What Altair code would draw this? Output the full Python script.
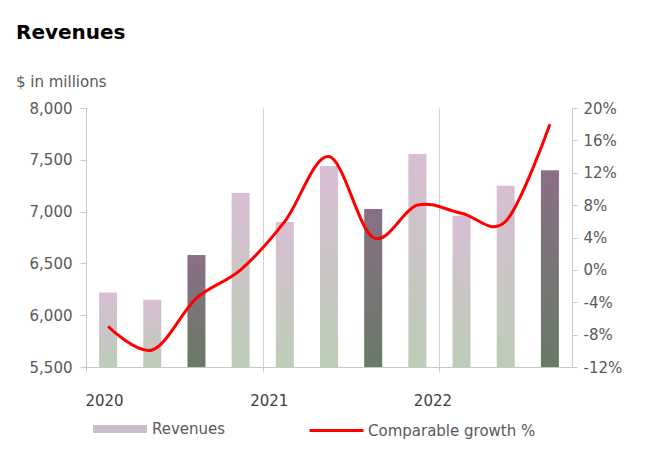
import altair as alt
import pandas as pd

# ---- data ----
quarters = ["Q1", "Q2", "Q3", "Q4", "Q1", "Q2", "Q3", "Q4", "Q1", "Q2", "Q3"]
quarter_years = ["2020"] * 4 + ["2021"] * 4 + ["2022"] * 3
revenues = [6220, 6150, 6580, 7180, 6900, 7440, 7025, 7555, 6960, 7250, 7400]
growth = [-7.0, -9.9, -3.5, 0.0, 6.0, 14.0, 4.0, 8.0, 7.0, 6.0, 18.0]
year_labels = ["2020", "2021", "2022"]
rev_ticks = [5500, 6000, 6500, 7000, 7500, 8000]
growth_ticks = [-12, -8, -4, 0, 4, 8, 12, 16, 20]
bar_series = "Revenues"
line_series = "Comparable growth %"
chart_title = "Revenues"
chart_subtitle = "$ in millions"

n = len(revenues)
df = pd.DataFrame({
    "idx": list(range(n)),
    "quarter": quarters,
    "year": quarter_years,
    "revenue": revenues,
    "growth": growth,
    "bar_series": [bar_series] * n,
    "line_series": [line_series] * n,
})

year_starts = [i for i, q in enumerate(quarters) if q == "Q1"]
label_expr = " : ".join(
    f"datum.value == {v} ? '{y}'" for v, y in zip(year_starts[:-1], year_labels[:-1])
) + f" : '{year_labels[-1]}'"

label_offsets = [18, 6, -7]
x_label_offset = {
    "condition": [
        {"test": f"datum.value == {v}", "value": o}
        for v, o in zip(year_starts[:-1], label_offsets[:-1])
    ],
    "value": label_offsets[-1],
}

AXIS_GREY = "#c8c8c8"
GRID = "#ccd4cc"
TXT = "#595959"
FONT = "DejaVu Sans"

light_grad = {
    "gradient": "linear", "x1": 0, "x2": 0, "y1": 0, "y2": 1,
    "stops": [
        {"offset": 0, "color": "#d8bed4"},
        {"offset": 1, "color": "#bccdb6"},
    ],
}
dark_grad = {
    "gradient": "linear", "x1": 0, "x2": 0, "y1": 0, "y2": 1,
    "stops": [
        {"offset": 0, "color": "#8a6f86"},
        {"offset": 1, "color": "#687a66"},
    ],
}

base = alt.Chart(df).transform_calculate(pos="datum.idx + 0.5")

x_enc = alt.X(
    "pos:Q",
    scale=alt.Scale(domain=[0, n], nice=False, zero=False, padding=0),
    axis=alt.Axis(
        values=year_starts,
        labelExpr=label_expr,
        title=None,
        grid=True,
        gridColor=GRID,
        gridWidth=1,
        domainColor=AXIS_GREY,
        tickColor=AXIS_GREY,
        tickSize=5,
        labelPadding=21,
        labelBaseline="top",
        labelAlign="center",
        labelOffset=x_label_offset,
        labelColor="#404040",
        labelFontSize=15,
        labelFont=FONT,
    ),
)

y_rev = alt.Y(
    "revenue:Q",
    scale=alt.Scale(domain=[rev_ticks[0], rev_ticks[-1]], nice=False, zero=False),
    axis=alt.Axis(
        values=rev_ticks,
        format=",.0f",
        title=None,
        grid=False,
        domainColor=AXIS_GREY,
        tickColor=AXIS_GREY,
        tickSize=6,
        labelPadding=8,
        labelColor=TXT,
        labelFontSize=15,
        labelFont=FONT,
    ),
)

bars_legend = base.mark_bar(width=18, opacity=0).encode(
    x=x_enc,
    y=y_rev,
    y2=alt.Y2(datum=rev_ticks[0]),
    color=alt.Color(
        "bar_series:N",
        scale=alt.Scale(domain=[bar_series], range=["#c9bfc8"]),
        legend=alt.Legend(
            orient="none",
            legendX=7,
            legendY=294,
            title=None,
            padding=0,
            symbolType="M-1,-0.15L1,-0.15L1,0.15L-1,0.15Z",
            symbolSize=2916,
            symbolOpacity=1,
            symbolStrokeWidth=0,
            labelOffset=5,
            labelLimit=0,
            labelFontSize=15,
            labelFont=FONT,
            labelColor=TXT,
        ),
    ),
)

bars = base.mark_bar(width=18).encode(
    x=x_enc,
    y=y_rev,
    y2=alt.Y2(datum=rev_ticks[0]),
    color=alt.condition("datum.quarter == 'Q3'", alt.value(dark_grad), alt.value(light_grad)),
)

line = base.mark_line(interpolate="cardinal", strokeWidth=3).encode(
    x=x_enc,
    y=alt.Y(
        "growth:Q",
        scale=alt.Scale(domain=[growth_ticks[0], growth_ticks[-1]], nice=False, zero=False),
        axis=alt.Axis(
            orient="right",
            values=growth_ticks,
            labelExpr="datum.value + '%'",
            title=None,
            grid=False,
            domainColor=AXIS_GREY,
            tickColor=AXIS_GREY,
            tickSize=5,
            labelPadding=6,
            labelColor=TXT,
            labelFontSize=15,
            labelFont=FONT,
        ),
    ),
    stroke=alt.Stroke(
        "line_series:N",
        scale=alt.Scale(domain=[line_series], range=["#ff0000"]),
        legend=alt.Legend(
            orient="none",
            legendX=222,
            legendY=294,
            title=None,
            padding=0,
            symbolType="stroke",
            symbolSize=2916,
            symbolStrokeWidth=3,
            labelOffset=3,
            labelLimit=0,
            labelFontSize=15,
            labelFont=FONT,
            labelColor=TXT,
        ),
    ),
)

title_txt = alt.Chart(pd.DataFrame({"t": [chart_title]})).mark_text(
    align="left", baseline="alphabetic", fontSize=20, fontWeight="bold",
    font=FONT, color="#000000",
).encode(text="t:N", x=alt.value(-70), y=alt.value(-69))

sub_txt = alt.Chart(pd.DataFrame({"t": [chart_subtitle]})).mark_text(
    align="left", baseline="alphabetic", fontSize=15, font=FONT, color=TXT,
).encode(text="t:N", x=alt.value(-70), y=alt.value(-21))

chart = (
    alt.layer(alt.layer(bars_legend, bars), line, title_txt, sub_txt)
    .resolve_scale(y="independent")
    .properties(
        width=486,
        height=259,
        autosize=alt.AutoSizeParams(type="none"),
        padding={"left": 78, "top": 100, "right": 74, "bottom": 80},
    )
    .configure(font=FONT)
    .configure_view(stroke=None)
)

chart.save("out.html", embed_options={"renderer": "svg", "actions": False})
